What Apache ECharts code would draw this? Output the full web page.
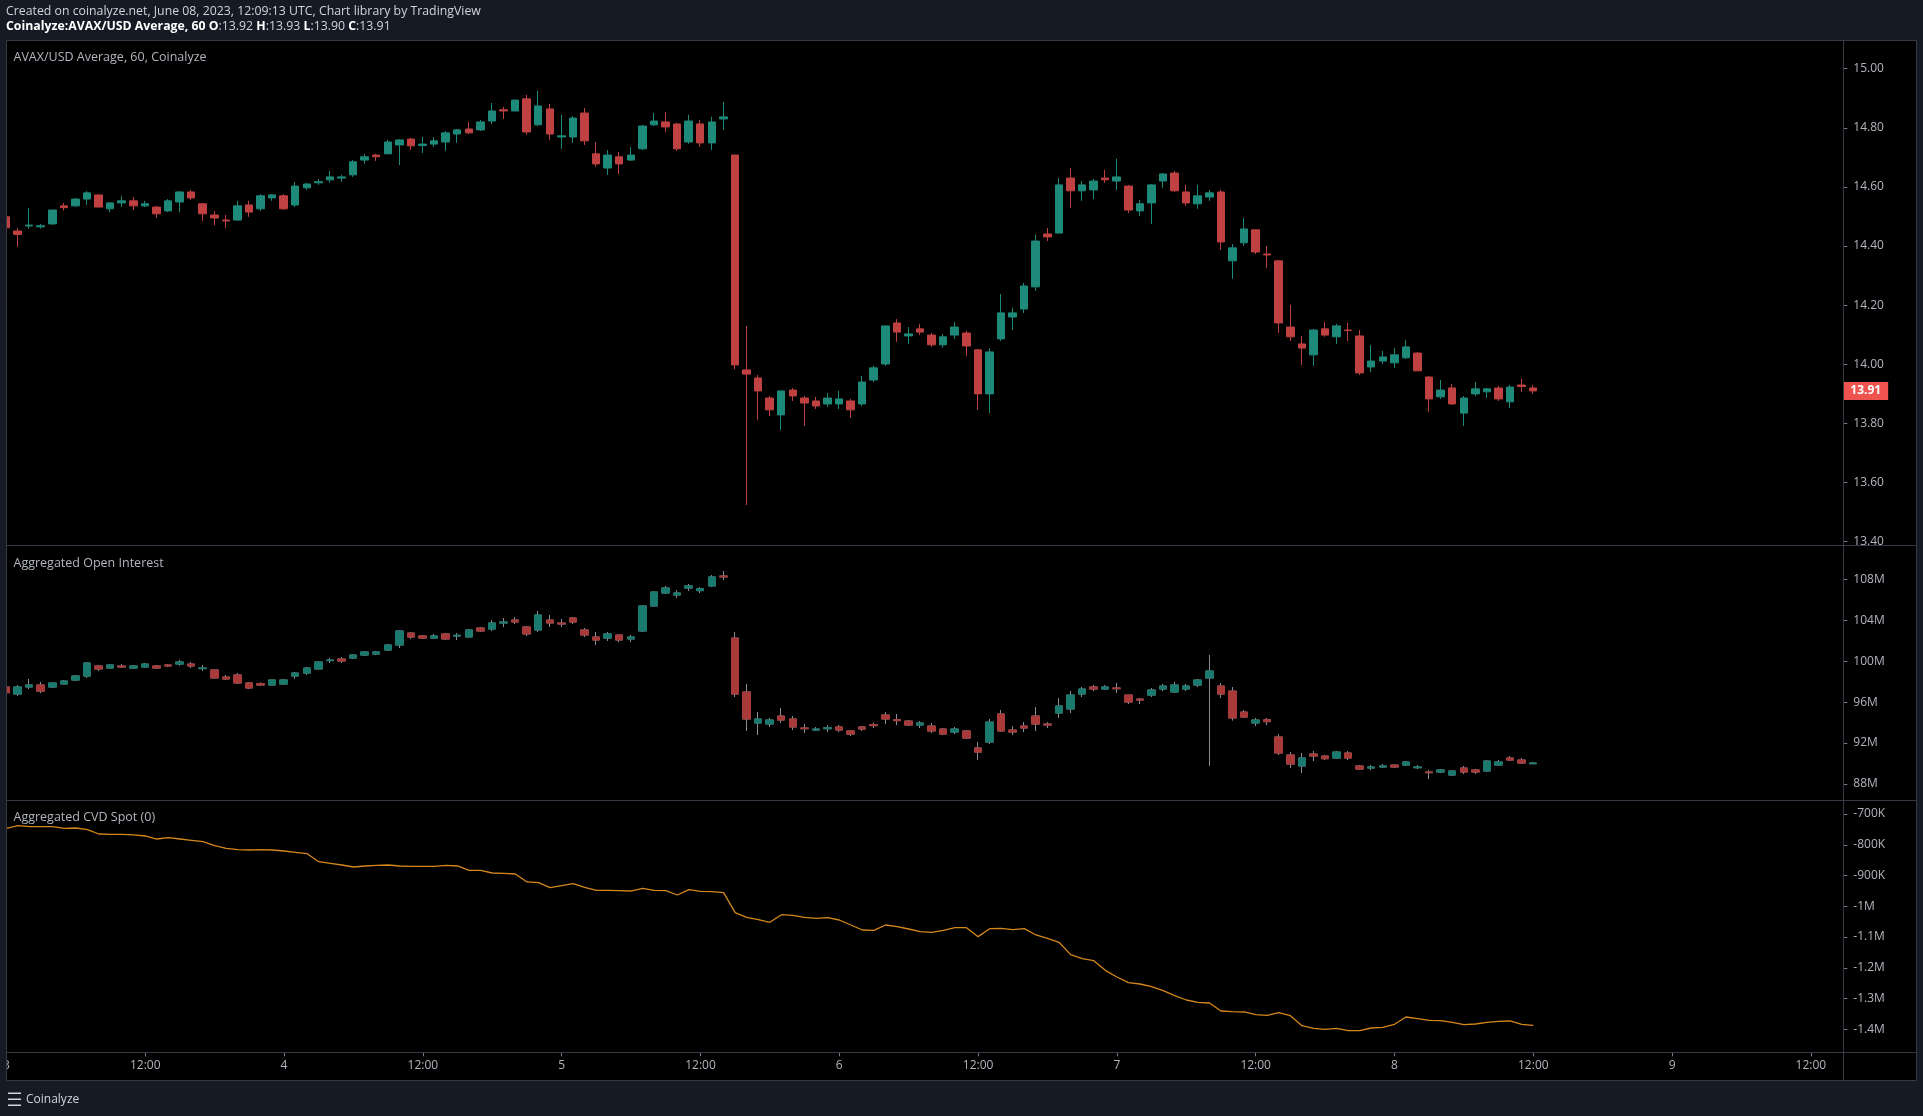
<!DOCTYPE html>
<html>
<head>
<meta charset="utf-8">
<script src="https://cdn.jsdelivr.net/npm/echarts@6/dist/echarts.min.js"></script>
<style>
html,body{margin:0;padding:0;background:#131722;}
#chart{width:1923px;height:1116px;}
</style>
</head>
<body>
<div id="chart"></div>
<script>
// ---- time axis ----
const dayLabels = ['3','4','5','6','7','8','9'];
const halfDayLabel = '12:00';

// ---- AVAX/USD Average, 60 (hourly, from Jun 3 00:00 UTC) ----
const priceOpen = [14.499,14.451,14.468,14.465,14.475,14.536,14.536,14.559,14.573,14.526,14.546,14.553,14.536,14.532,14.519,14.549,14.583,14.543,14.505,14.488,14.488,14.539,14.526,14.563,14.570,14.539,14.597,14.614,14.624,14.630,14.641,14.691,14.708,14.712,14.742,14.762,14.740,14.745,14.752,14.779,14.796,14.793,14.823,14.861,14.857,14.898,14.810,14.864,14.769,14.769,14.850,14.712,14.664,14.702,14.691,14.729,14.810,14.820,14.813,14.752,14.813,14.749,14.830,14.708,13.981,13.954,13.886,13.829,13.913,13.886,13.876,13.866,13.866,13.876,13.866,13.947,14.001,14.140,14.096,14.120,14.099,14.066,14.099,14.106,14.049,13.900,14.086,14.160,14.187,14.262,14.441,14.444,14.630,14.587,14.590,14.630,14.620,14.603,14.519,14.546,14.620,14.647,14.583,14.543,14.566,14.583,14.350,14.411,14.455,14.373,14.350,14.126,14.069,14.032,14.120,14.093,14.116,14.096,13.991,14.011,14.005,14.022,14.038,13.957,13.890,13.920,13.835,13.900,13.907,13.920,13.873,13.930,13.920];
const priceHigh = [14.505,14.461,14.529,14.475,14.522,14.546,14.563,14.586,14.573,14.549,14.570,14.566,14.553,14.536,14.559,14.586,14.590,14.546,14.519,14.505,14.553,14.553,14.576,14.576,14.576,14.617,14.614,14.627,14.654,14.641,14.691,14.712,14.712,14.759,14.762,14.766,14.769,14.769,14.789,14.796,14.820,14.827,14.884,14.871,14.894,14.911,14.925,14.881,14.844,14.840,14.867,14.752,14.725,14.718,14.735,14.810,14.850,14.854,14.817,14.844,14.827,14.837,14.888,14.708,14.130,13.964,13.893,13.910,13.920,13.893,13.890,13.903,13.910,13.883,13.961,13.995,14.130,14.153,14.126,14.137,14.106,14.103,14.143,14.113,14.052,14.055,14.238,14.191,14.275,14.438,14.461,14.630,14.664,14.620,14.627,14.658,14.695,14.607,14.556,14.610,14.647,14.654,14.607,14.607,14.590,14.590,14.407,14.495,14.455,14.400,14.353,14.201,14.096,14.120,14.143,14.137,14.140,14.116,14.065,14.045,14.055,14.082,14.042,13.961,13.947,13.934,13.893,13.940,13.920,13.927,13.930,13.951,13.930];
const priceLow = [14.460,14.398,14.459,14.459,14.471,14.520,14.532,14.539,14.532,14.515,14.532,14.522,14.532,14.495,14.515,14.515,14.556,14.485,14.471,14.461,14.485,14.499,14.519,14.553,14.522,14.532,14.590,14.607,14.614,14.617,14.634,14.678,14.688,14.712,14.674,14.725,14.715,14.735,14.722,14.749,14.779,14.789,14.813,14.830,14.857,14.776,14.806,14.759,14.729,14.749,14.742,14.668,14.641,14.644,14.688,14.725,14.806,14.786,14.722,14.746,14.735,14.725,14.793,13.984,13.524,13.812,13.825,13.778,13.876,13.791,13.849,13.856,13.849,13.819,13.859,13.940,13.995,14.076,14.069,14.099,14.059,14.056,14.086,14.028,13.846,13.835,14.079,14.116,14.174,14.248,14.417,14.444,14.529,14.553,14.559,14.614,14.590,14.512,14.502,14.475,14.597,14.583,14.536,14.526,14.553,14.387,14.289,14.400,14.373,14.326,14.106,14.079,13.998,13.995,14.093,14.069,14.079,13.964,13.974,14.001,13.988,14.018,13.978,13.839,13.883,13.863,13.791,13.893,13.886,13.876,13.852,13.907,13.900];
const priceClose = [14.462,14.439,14.471,14.469,14.522,14.530,14.559,14.580,14.532,14.546,14.553,14.536,14.543,14.509,14.553,14.583,14.563,14.509,14.495,14.485,14.536,14.515,14.570,14.573,14.526,14.603,14.610,14.618,14.634,14.634,14.685,14.702,14.702,14.752,14.759,14.739,14.745,14.756,14.783,14.793,14.783,14.820,14.857,14.857,14.894,14.786,14.874,14.779,14.773,14.833,14.756,14.678,14.708,14.678,14.708,14.806,14.823,14.803,14.729,14.823,14.749,14.820,14.837,13.998,13.967,13.910,13.846,13.910,13.893,13.869,13.859,13.886,13.883,13.846,13.940,13.988,14.130,14.109,14.103,14.109,14.066,14.093,14.126,14.062,13.900,14.042,14.174,14.174,14.265,14.417,14.431,14.607,14.587,14.607,14.620,14.624,14.634,14.522,14.543,14.607,14.644,14.587,14.546,14.570,14.580,14.414,14.394,14.458,14.380,14.370,14.140,14.093,14.055,14.116,14.099,14.130,14.114,13.971,14.011,14.025,14.032,14.059,13.978,13.883,13.913,13.866,13.886,13.917,13.917,13.883,13.923,13.925,13.910];

// ---- Aggregated Open Interest (millions) ----
const oiOpen = [97.48,96.79,97.48,97.67,97.48,97.77,98.16,98.55,99.53,99.33,99.53,99.33,99.43,99.53,99.63,99.72,99.72,99.27,99.14,98.45,98.65,97.87,97.80,97.67,97.77,98.55,98.84,99.24,100.05,100.21,100.31,100.60,100.70,101.09,101.58,102.75,102.46,102.26,102.66,102.46,102.36,103.24,103.14,103.73,104.02,103.34,103.05,104.02,103.73,104.22,103.05,102.36,102.26,102.56,102.17,102.95,105.39,106.66,106.47,107.15,106.89,107.35,108.32,102.26,96.99,93.96,93.86,94.64,94.35,93.47,93.27,93.40,93.57,93.18,93.57,93.80,94.74,94.28,94.15,93.76,93.66,93.37,93.08,93.18,91.52,92.10,94.84,93.27,93.66,94.64,93.86,94.94,95.33,96.79,97.48,97.28,97.38,96.69,96.30,96.69,97.28,96.99,97.28,97.67,98.36,97.57,97.08,95.03,93.96,94.28,92.59,90.83,89.76,90.93,90.73,90.54,91.03,89.76,89.56,89.66,89.85,89.85,89.59,89.17,89.17,88.88,89.56,89.37,89.27,89.85,90.54,90.34,89.98];
const oiHigh = [97.55,97.67,98.26,97.97,97.87,98.16,98.65,99.92,99.63,99.65,99.72,99.63,99.82,99.63,99.72,100.11,99.92,99.63,99.16,98.65,98.84,97.97,97.93,98.18,98.26,98.94,99.43,99.98,100.31,100.41,100.70,100.99,100.99,101.68,103.05,102.85,102.56,102.66,102.75,102.75,103.14,103.34,104.02,104.22,104.32,103.44,104.90,104.51,104.12,104.32,103.24,102.85,102.85,102.62,102.56,105.41,106.78,107.35,106.95,107.54,107.25,108.42,108.81,102.85,97.77,95.03,94.45,95.42,94.64,93.86,93.57,93.76,93.76,93.27,93.66,93.99,95.03,94.84,94.25,94.15,93.96,93.47,93.57,93.27,92.10,94.35,95.23,93.66,94.05,95.52,94.05,96.40,97.08,97.48,97.67,97.67,97.87,96.71,96.40,97.38,97.77,97.97,97.77,98.26,100.60,97.87,97.48,95.23,94.45,94.45,92.88,91.12,91.03,91.22,90.83,91.22,91.22,89.85,89.85,89.95,89.95,90.24,89.85,89.36,89.46,89.29,89.76,89.46,90.34,90.34,90.73,90.54,90.15];
const oiLow = [96.85,96.60,97.28,96.89,97.38,97.77,98.06,98.36,99.04,99.30,99.33,99.24,99.33,99.24,99.43,99.56,99.33,99.04,98.34,98.16,97.77,97.28,97.60,97.65,97.75,98.26,98.65,99.22,99.82,99.82,100.21,100.50,100.60,100.99,101.29,102.17,102.17,102.17,102.07,102.07,102.34,102.85,102.95,103.34,103.63,102.46,102.85,103.34,103.34,103.63,102.36,101.58,101.97,101.87,101.87,102.85,105.37,106.56,106.17,106.86,106.66,107.25,107.93,96.50,93.18,92.78,93.57,93.96,93.27,92.98,93.18,93.08,93.08,92.69,93.18,93.47,93.86,93.76,93.66,93.47,92.98,92.78,92.88,92.39,90.34,91.91,93.08,92.78,93.08,93.18,93.47,94.45,94.94,96.50,97.08,97.18,96.89,95.81,95.81,96.50,97.08,96.89,97.08,97.48,89.76,96.40,94.19,94.45,93.66,93.76,90.83,89.56,89.07,90.24,90.34,90.44,90.34,89.36,89.36,89.56,89.56,89.76,89.46,88.48,89.07,88.78,88.97,88.97,89.17,89.76,90.24,89.95,89.95];
const oiClose = [96.92,97.48,97.67,97.08,97.87,98.06,98.55,99.82,99.24,99.63,99.43,99.53,99.72,99.33,99.53,99.92,99.53,99.33,98.36,98.26,97.87,97.38,97.67,98.16,98.16,98.84,99.33,99.92,100.11,100.02,100.60,100.90,100.90,101.58,102.95,102.36,102.26,102.46,102.17,102.53,103.05,102.95,103.73,103.83,103.83,102.66,104.51,103.73,103.63,103.83,102.56,102.07,102.66,102.07,102.36,105.39,106.76,107.15,106.66,107.35,107.09,108.23,108.23,96.79,94.35,94.35,94.25,94.25,93.57,93.40,93.37,93.50,93.27,92.88,93.37,93.70,94.35,94.19,93.76,93.96,93.18,92.88,93.37,92.49,91.12,94.05,93.18,93.08,93.47,93.86,93.76,95.62,96.69,97.28,97.28,97.48,97.31,96.01,96.20,97.18,97.57,97.67,97.57,98.16,99.04,96.79,94.45,94.54,94.25,94.09,91.03,89.95,90.54,90.73,90.47,91.12,90.54,89.46,89.66,89.76,89.66,90.15,89.66,89.10,89.37,89.27,89.17,89.17,90.24,90.15,90.34,90.05,90.05];

// ---- Aggregated CVD Spot (thousands) ----
const cvdSpot = [-746.6,-738,-741.2,-741.2,-741.2,-746.6,-745.5,-751,-765,-766,-766,-768,-771.5,-781.3,-777,-781.3,-785.6,-790,-803,-811.6,-816,-817,-816,-817,-820.3,-824.6,-829,-855,-860.4,-865.8,-872.3,-869,-867,-865.8,-869,-870.2,-870.2,-870.2,-867,-869,-883.2,-883.2,-891.8,-893,-895,-921,-923.3,-939.5,-933,-926.5,-938.4,-948.2,-948.2,-949.3,-950.4,-941.7,-948.2,-949.3,-963.4,-946,-951.4,-952.5,-955.8,-1020.8,-1036,-1043.5,-1052.2,-1027.3,-1029.5,-1036,-1039.2,-1037,-1044.6,-1060.9,-1077.1,-1078.2,-1060.9,-1066.3,-1073.9,-1082.6,-1084.7,-1078.2,-1069.6,-1069.6,-1098.8,-1072.8,-1071.7,-1076,-1072.8,-1093.4,-1104.2,-1117.2,-1157.3,-1170.3,-1176.8,-1208.3,-1230,-1248.4,-1252.7,-1261.4,-1274.4,-1290.6,-1304.7,-1312.3,-1314.5,-1340.5,-1342.6,-1343.7,-1352.4,-1354.6,-1345.9,-1355.7,-1388.2,-1396.8,-1400.1,-1396.8,-1404.4,-1404.4,-1395.8,-1393.6,-1383.8,-1360,-1365.4,-1370.8,-1371.9,-1377.3,-1384.9,-1382.8,-1377.3,-1374.1,-1373,-1383.8,-1387.1];

// ---- build ----
const last = priceClose.length - 1;
const priceData = priceOpen.map((o, i) => [i, o, priceClose[i], priceLow[i], priceHigh[i]]);
const oiWickData = oiOpen.map((o, i) => [i, o, oiClose[i], oiLow[i], oiHigh[i]]);
const oiBodyData = oiOpen.map((o, i) => [i, o, oiClose[i], Math.min(o, oiClose[i]), Math.max(o, oiClose[i])]);
const cvdData = cvdSpot.map((v, i) => [i, v]);

const UP = '#1e8a7a', DOWN = '#bf4141';
const OI_UP = '#1b7a6e', OI_DOWN = '#a83a3a';
const AX_TXT = '#b2b5be', AX_TICK = '#787b86', BORDER = '#363a45', NAVY = '#161a25';
const FONT = '"Open Sans", sans-serif';

function xLabel(h) {
  if (Math.abs(h - Math.round(h)) > 1e-6) return '';
  if (h % 24 === 0) return dayLabels[h / 24] || '';
  if (h % 12 === 0) return halfDayLabel;
  return '';
}

const gridLeft = 6, gridRight = 79.7, xMax = 158.8;

const yAxisBase = {
  type: 'value', position: 'right', scale: false,
  axisLine: { show: false, onZero: false },
  axisTick: { show: true, length: 4, lineStyle: { color: AX_TICK } },
  splitLine: { show: false },
  axisLabel: { color: AX_TXT, fontSize: 12, fontFamily: FONT, margin: 10 }
};
const xHidden = { type: 'value', min: 0, max: xMax, show: false, axisLine: { show: false, onZero: false }, axisTick: { show: false }, splitLine: { show: false } };

const chart = echarts.init(document.getElementById('chart'), null, { renderer: 'canvas' });

const lastLbl = priceClose[last].toFixed(2);
const hdr2 = '{b|Coinalyze:AVAX/USD Average, 60 O}{n|:' + priceOpen[last].toFixed(2) + ' }{b|H}{n|:' + priceHigh[last].toFixed(2) +
  ' }{b|L}{n|:' + priceLow[last].toFixed(2) + ' }{b|C}{n|:' + priceClose[last].toFixed(2) + '}';

chart.setOption({
  animation: false,
  backgroundColor: '#000000',
  textStyle: { fontFamily: FONT },
  grid: [
    { left: gridLeft, right: gridRight, top: 68.7, height: 473 },
    { left: gridLeft, right: gridRight, top: 579.3, height: 204.7 },
    { left: gridLeft, right: gridRight, top: 814, height: 215.3 }
  ],
  xAxis: [
    Object.assign({}, xHidden, { gridIndex: 0 }),
    Object.assign({}, xHidden, { gridIndex: 1 }),
    { type: 'value', gridIndex: 2, min: 0, max: xMax, interval: 12, offset: 23,
      axisLine: { show: false, onZero: false },
      axisTick: { show: true, length: 4, lineStyle: { color: AX_TICK } },
      splitLine: { show: false },
      axisLabel: { color: AX_TXT, fontSize: 12, fontFamily: FONT, margin: 7, formatter: xLabel, showMaxLabel: false }
    }
  ],
  yAxis: [
    Object.assign({}, yAxisBase, { gridIndex: 0, min: 13.4, max: 15.0, interval: 0.2,
      axisLabel: Object.assign({}, yAxisBase.axisLabel, { formatter: v => v.toFixed(2) }) }),
    Object.assign({}, yAxisBase, { gridIndex: 1, min: 88, max: 108, interval: 4,
      axisLabel: Object.assign({}, yAxisBase.axisLabel, { formatter: v => v + 'M' }) }),
    Object.assign({}, yAxisBase, { gridIndex: 2, min: -1400, max: -700, interval: 100,
      axisLabel: Object.assign({}, yAxisBase.axisLabel, { formatter: v => (v <= -1000 ? (Math.round(v / 100) / 10) + 'M' : v + 'K') }) })
  ],
  series: [
    {
      type: 'candlestick', xAxisIndex: 0, yAxisIndex: 0, data: priceData, barWidth: 8, clip: false,
      itemStyle: { color: UP, color0: DOWN, borderColor: UP, borderColor0: DOWN, borderWidth: 1 },
      markLine: {
        symbol: ['none', 'none'], silent: true,
        lineStyle: { color: 'rgba(0,0,0,0)', width: 1 },
        label: { show: true, position: 'end', distance: 0, formatter: lastLbl,
          backgroundColor: '#ef5350', color: '#ffffff', fontWeight: 'bold', fontSize: 12, fontFamily: FONT,
          padding: [3, 7, 1, 7], lineHeight: 14 },
        data: [{ yAxis: priceClose[last] }]
      }
    },
    {
      type: 'candlestick', xAxisIndex: 1, yAxisIndex: 1, data: oiWickData, barWidth: 8, clip: false,
      itemStyle: { color: 'rgba(0,0,0,0)', color0: 'rgba(0,0,0,0)', borderColor: '#8a8d96', borderColor0: '#8a8d96', borderWidth: 1 }
    },
    {
      type: 'candlestick', xAxisIndex: 1, yAxisIndex: 1, data: oiBodyData, barWidth: 8, clip: false,
      itemStyle: { color: OI_UP, color0: OI_DOWN, borderColor: OI_UP, borderColor0: OI_DOWN, borderWidth: 1 }
    },
    {
      type: 'line', xAxisIndex: 2, yAxisIndex: 2, data: cvdData, showSymbol: false, clip: false,
      lineStyle: { color: '#d4871c', width: 1.3 }
    }
  ],
  graphic: { elements: [
    { type: 'rect', shape: { x: 0, y: 0, width: 1923, height: 40.5 }, style: { fill: NAVY }, z: 100 },
    { type: 'rect', shape: { x: 0, y: 1080.5, width: 1923, height: 36 }, style: { fill: NAVY }, z: 100 },
    { type: 'rect', shape: { x: 0, y: 0, width: 6.5, height: 1116 }, style: { fill: NAVY }, z: 100 },
    { type: 'rect', shape: { x: 1917, y: 0, width: 6, height: 1116 }, style: { fill: NAVY }, z: 100 },
    { type: 'rect', shape: { x: 1844, y: 546, width: 72, height: 6 }, style: { fill: '#000' }, z: 100 },
    { type: 'rect', shape: { x: 6.5, y: 40.5, width: 1910, height: 1040 }, style: { fill: 'none', stroke: BORDER, lineWidth: 1 }, z: 101 },
    { type: 'line', shape: { x1: 6.5, y1: 545.5, x2: 1916.5, y2: 545.5 }, style: { stroke: BORDER, lineWidth: 1 }, z: 101 },
    { type: 'line', shape: { x1: 6.5, y1: 800.5, x2: 1916.5, y2: 800.5 }, style: { stroke: BORDER, lineWidth: 1 }, z: 101 },
    { type: 'line', shape: { x1: 6.5, y1: 1052.5, x2: 1916.5, y2: 1052.5 }, style: { stroke: BORDER, lineWidth: 1 }, z: 101 },
    { type: 'line', shape: { x1: 1843.5, y1: 40.5, x2: 1843.5, y2: 1080.5 }, style: { stroke: BORDER, lineWidth: 1 }, z: 101 },
    { type: 'text', x: 6, y: 11, z: 102, style: { text: 'Created on coinalyze.net, June 08, 2023, 12:09:13 UTC, Chart library by TradingView',
      fill: '#d1d4dc', font: '12.3px ' + FONT, textVerticalAlign: 'middle' } },
    { type: 'text', x: 6, y: 26.5, z: 102, style: { text: hdr2, textVerticalAlign: 'middle',
      rich: { b: { fill: '#ffffff', fontWeight: 'bold', fontSize: 12.3, fontFamily: FONT },
              n: { fill: '#d1d4dc', fontSize: 12.3, fontFamily: FONT } } } },
    { type: 'text', x: 13.5, y: 57, z: 102, style: { text: 'AVAX/USD Average, 60, Coinalyze', fill: AX_TXT, font: '12.5px ' + FONT, textVerticalAlign: 'middle' } },
    { type: 'text', x: 13.5, y: 563, z: 102, style: { text: 'Aggregated Open Interest', fill: AX_TXT, font: '12.5px ' + FONT, textVerticalAlign: 'middle' } },
    { type: 'text', x: 13.5, y: 817, z: 102, style: { text: 'Aggregated CVD Spot (0)', fill: AX_TXT, font: '12.5px ' + FONT, textVerticalAlign: 'middle' } },
    { type: 'rect', shape: { x: 8, y: 1092.5, width: 13, height: 1.5 }, style: { fill: '#d1d4dc' }, z: 102 },
    { type: 'rect', shape: { x: 8, y: 1098.5, width: 13, height: 1.5 }, style: { fill: '#d1d4dc' }, z: 102 },
    { type: 'rect', shape: { x: 8, y: 1104.5, width: 13, height: 1.5 }, style: { fill: '#d1d4dc' }, z: 102 },
    { type: 'text', x: 26, y: 1099.5, z: 102, style: { text: 'Coinalyze', fill: '#d1d4dc', font: '12px ' + FONT, textVerticalAlign: 'middle' } }
  ] }
});
</script>
</body>
</html>
